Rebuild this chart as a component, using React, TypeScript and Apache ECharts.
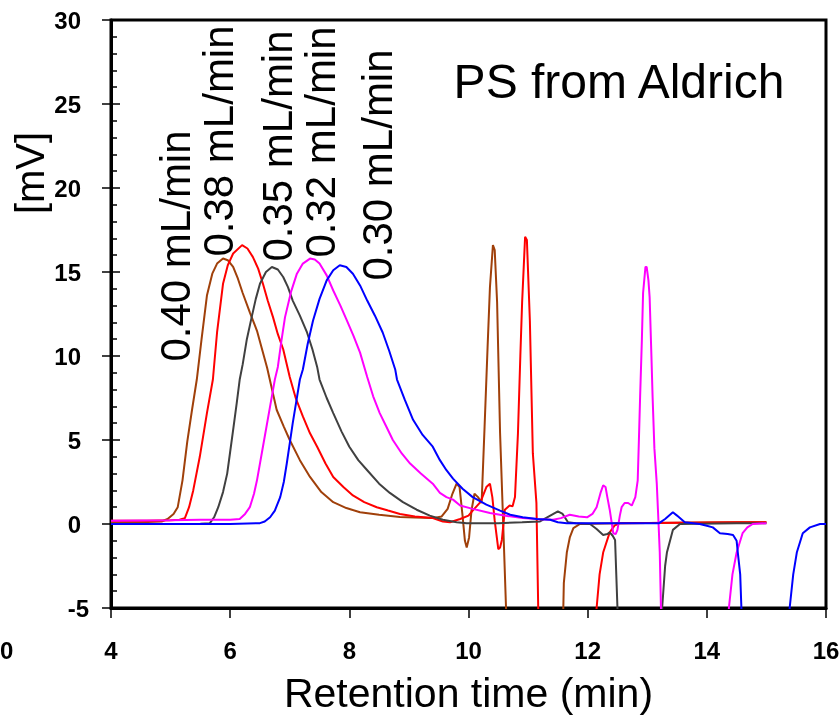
import React, { useEffect, useRef } from "react";
import * as echarts from "echarts";

// Retention time (min) / signal (mV) pairs
const flow040: number[][] = [
  [4.0,0.1],[4.5,0.1],[4.85,0.15],[4.95,0.3],[5.05,0.6],[5.12,1.0],[5.2,2.6],[5.28,4.9],[5.36,6.8],[5.44,8.6],
  [5.52,11.0],[5.61,13.6],[5.7,14.9],[5.78,15.5],[5.88,15.8],[5.96,15.7],[6.05,15.3],[6.13,14.6],[6.21,13.75],
  [6.33,12.6],[6.45,11.5],[6.62,9.3],[6.78,6.8],[6.9,5.8],[7.0,5.0],[7.17,3.8],[7.34,2.8],[7.53,1.9],[7.73,1.3],
  [7.95,0.95],[8.18,0.7],[8.5,0.55],[8.85,0.42],[9.1,0.38],[9.4,0.35],[9.55,0.45],[9.65,0.9],[9.73,1.8],[9.8,2.4],
  [9.85,2.2],[9.9,0.5],[9.94,-1.0],[9.97,-1.4],[10.01,-0.8],[10.05,0.8],[10.1,1.8],[10.16,1.6],[10.22,1.25],
  [10.27,5.8],[10.32,10.5],[10.36,14.1],[10.41,16.6],[10.44,16.3],[10.48,13.2],[10.53,5.4],[10.58,0.25],[10.63,-5],
  [10.66,-12],[11.55,-12],[11.6,-3.5],[11.65,-1.7],[11.7,-0.8],[11.76,-0.25],[11.87,0],[12.5,0.05],[13.5,0.08],
  [14.5,0.1],[15.0,0.1]
];
const flow038: number[][] = [
  [4.0,0.2],[4.6,0.2],[5.0,0.22],[5.15,0.25],[5.24,0.35],[5.31,1.0],[5.38,2.0],[5.49,4.0],[5.61,6.6],[5.71,8.6],
  [5.78,11.4],[5.88,14.3],[5.96,15.4],[6.05,16.1],[6.2,16.6],[6.29,16.4],[6.38,15.9],[6.47,15.2],[6.55,14.3],
  [6.63,13.3],[6.72,12.3],[6.8,11.3],[6.89,10.4],[7.0,8.75],[7.1,7.5],[7.22,6.4],[7.34,5.4],[7.46,4.6],[7.6,3.6],
  [7.73,2.8],[7.9,2.2],[8.06,1.7],[8.25,1.3],[8.46,1.0],[8.65,0.8],[8.85,0.6],[9.1,0.45],[9.4,0.35],[9.57,0.15],
  [9.69,0.1],[9.86,0.3],[10.0,0.5],[10.07,0.8],[10.2,1.3],[10.3,2.2],[10.36,2.4],[10.4,1.6],[10.44,0.2],[10.5,-1.5],
  [10.53,-1.4],[10.56,-0.95],[10.61,0.85],[10.69,1.1],[10.74,1.05],[10.78,1.6],[10.83,5.4],[10.87,10.0],[10.9,13.2],
  [10.95,17.1],[10.98,16.9],[11.03,12.1],[11.08,4.2],[11.14,1.25],[11.17,-5],[11.2,-12],[12.1,-12],[12.15,-5],
  [12.2,-3],[12.26,-1.7],[12.37,-0.5],[12.45,-0.1],[12.54,0.05],[13.5,0.08],[14.5,0.1],[15.0,0.1]
];
const flow035: number[][] = [
  [4.0,0.0],[5.0,0.0],[5.5,0.02],[5.66,0.05],[5.73,0.4],[5.8,1.0],[5.88,1.9],[5.95,3.0],[6.0,4.3],[6.05,5.6],
  [6.11,7.2],[6.16,8.6],[6.21,9.5],[6.28,11.0],[6.36,12.3],[6.43,13.4],[6.5,14.3],[6.6,15.0],[6.7,15.3],[6.8,15.15],
  [6.89,14.7],[6.97,14.1],[7.05,13.3],[7.17,12.4],[7.29,11.4],[7.38,10.4],[7.46,9.35],[7.5,8.6],[7.62,7.5],
  [7.73,6.6],[7.87,5.5],[8.0,4.6],[8.15,3.8],[8.3,3.2],[8.5,2.4],[8.68,1.85],[8.9,1.3],[9.13,0.85],[9.35,0.5],
  [9.57,0.25],[9.8,0.1],[9.97,0.05],[10.5,0.05],[10.9,0.1],[11.2,0.15],[11.35,0.45],[11.5,0.75],[11.58,0.6],
  [11.67,0.1],[11.8,0.05],[12.04,0.0],[12.15,-0.3],[12.26,-0.65],[12.33,-0.6],[12.37,-0.5],[12.42,-0.7],
  [12.46,-0.95],[12.5,-5],[12.52,-12],[13.23,-12],[13.25,-5],[13.3,-2.5],[13.33,-1.7],[13.43,-0.35],[13.55,0.0],
  [14.5,0.05],[15.0,0.05]
];
const flow032: number[][] = [
  [4.0,0.2],[5.0,0.22],[5.5,0.25],[6.0,0.25],[6.16,0.3],[6.25,0.6],[6.33,1.0],[6.4,1.8],[6.45,2.6],[6.55,4.6],
  [6.67,7.0],[6.75,8.6],[6.8,9.35],[6.86,10.9],[6.92,12.3],[7.02,13.8],[7.12,14.9],[7.22,15.5],[7.34,15.8],
  [7.42,15.75],[7.5,15.5],[7.62,14.8],[7.73,13.9],[7.85,13.0],[7.96,12.1],[8.07,11.2],[8.18,10.2],[8.3,8.75],
  [8.4,7.6],[8.51,6.6],[8.62,5.8],[8.73,5.0],[8.88,4.2],[9.02,3.6],[9.2,3.0],[9.4,2.4],[9.52,1.85],[9.63,1.6],
  [9.74,1.45],[9.86,1.1],[10.07,0.9],[10.36,0.65],[10.6,0.5],[10.91,0.35],[11.2,0.28],[11.42,0.25],[11.55,0.35],
  [11.7,0.55],[11.85,0.45],[11.99,0.4],[12.08,0.6],[12.15,1.0],[12.22,1.9],[12.26,2.3],[12.3,2.2],[12.33,1.6],
  [12.37,0.85],[12.43,-0.55],[12.47,-0.6],[12.5,-0.35],[12.54,0.5],[12.57,1.0],[12.62,1.25],[12.68,1.25],
  [12.74,1.1],[12.8,1.6],[12.84,2.6],[12.86,5.0],[12.88,7.55],[12.91,11.0],[12.93,13.75],[12.97,15.3],[12.99,15.3],
  [13.02,14.5],[13.04,13.5],[13.07,10.0],[13.09,7.55],[13.12,4.5],[13.16,2.4],[13.19,0.0],[13.21,-1.7],[13.23,-5],
  [13.25,-12],[14.35,-12],[14.37,-5],[14.43,-3],[14.5,-1.7],[14.6,-0.55],[14.68,-0.2],[14.77,0.0],[15.0,0.05]
];
const flow030: number[][] = [
  [4.0,0.0],[5.0,0.0],[6.0,0.0],[6.5,0.05],[6.58,0.15],[6.67,0.4],[6.75,0.8],[6.84,1.6],[6.9,2.5],[6.95,3.6],
  [7.0,4.8],[7.05,6.0],[7.11,7.3],[7.17,8.6],[7.22,9.2],[7.3,10.7],[7.39,12.1],[7.5,13.4],[7.62,14.5],[7.73,15.1],
  [7.84,15.4],[7.95,15.3],[8.06,14.9],[8.18,14.2],[8.3,13.3],[8.43,12.4],[8.56,11.4],[8.67,10.3],[8.77,9.2],
  [8.8,8.6],[8.93,7.4],[9.07,6.2],[9.23,5.3],[9.4,4.6],[9.52,3.8],[9.63,3.2],[9.74,2.7],[9.9,2.1],[10.07,1.6],
  [10.3,1.15],[10.53,0.8],[10.7,0.55],[10.91,0.4],[11.15,0.3],[11.37,0.25],[11.5,0.1],[11.65,0.05],[12.5,0.05],
  [13.2,0.05],[13.3,0.3],[13.43,0.7],[13.5,0.5],[13.63,0.1],[13.88,0.0],[14.0,-0.1],[14.1,-0.2],[14.22,-0.55],
  [14.35,-0.6],[14.44,-0.65],[14.5,-1.0],[14.52,-1.7],[14.56,-3],[14.58,-5],[14.6,-12],[15.37,-12],[15.39,-5],
  [15.45,-3],[15.51,-1.7],[15.61,-0.55],[15.73,-0.2],[15.9,0.0],[16.0,0.0]
];

const flowLabels = ["0.40 mL/min", "0.38 mL/min", "0.35 mL/min", "0.32 mL/min", "0.30 mL/min"];
const flowData = [flow040, flow038, flow035, flow032, flow030];
const flowColors = ["#A0400A", "#FF0000", "#404040", "#FF00FF", "#0000FF"];
const labelPos = [[175, 246], [218, 141], [277, 146], [320, 142], [377, 165]];

const FONT = "'Liberation Sans', Arial, sans-serif";

export default function App() {
  const ref = useRef<HTMLDivElement>(null);
  useEffect(() => {
    const chart = echarts.init(ref.current!, null, { renderer: "svg", width: 840, height: 716 });
    chart.setOption({
      animation: false,
      grid: {
        left: 111, width: 715, top: 20, height: 588, containLabel: false, outerBoundsMode: "none",
        show: true, borderColor: "#000", borderWidth: 3, backgroundColor: "transparent",
      },
      xAxis: {
        type: "value", min: 4, max: 16, interval: 2,
        axisLine: { show: true, onZero: false, lineStyle: { color: "#000", width: 3 } },
        axisTick: { show: true, length: 10, lineStyle: { color: "#000", width: 1.5 } },
        axisLabel: { fontSize: 24, fontWeight: "bold", color: "#000", margin: 30, fontFamily: FONT },
        splitLine: { show: false },
        name: "Retention time (min)", nameLocation: "middle", nameGap: 65,
        nameTextStyle: { fontSize: 41, lineHeight: 40, color: "#000", fontFamily: FONT },
      },
      yAxis: [
        {
          type: "value", min: -5, max: 30, interval: 5, position: "left",
          axisLine: { show: true, lineStyle: { color: "#000", width: 3 } },
          axisTick: { show: true, length: 9, lineStyle: { color: "#000", width: 1.5 } },
          axisLabel: {
            color: "#000", margin: 22,
            formatter: (v: number) => (v === -5 ? "{n|-5}" : "{p|" + v + "}"),
            rich: {
              n: { fontSize: 24, fontWeight: "bold", color: "#000", fontFamily: FONT },
              p: { fontSize: 24, fontWeight: "bold", color: "#000", fontFamily: FONT, padding: [0, 8, 0, 0] },
            },
          },
          splitLine: { show: false },
        },
        {
          type: "value", min: -5, max: 30, interval: 5, position: "left",
          axisLine: { show: false },
          axisTick: { show: true, inside: true, length: 9, lineStyle: { color: "#000", width: 1.5 } },
          minorTick: { show: true, splitNumber: 5, length: 6, lineStyle: { color: "#000", width: 1.5 } },
          axisLabel: { show: false },
          splitLine: { show: false },
        },
      ],
      series: flowData.map((d, i) => ({
        type: "line",
        name: flowLabels[i],
        data: d,
        yAxisIndex: 0,
        showSymbol: false,
        symbol: "none",
        clip: true,
        lineStyle: { color: flowColors[i], width: 2 },
        z: 2 + i,
      })),
      graphic: [
        { type: "text", x: 30, y: 173, rotation: Math.PI / 2, style: { text: "[mV]", fontSize: 40, fontFamily: FONT, fill: "#000", align: "center", verticalAlign: "middle" } },
        { type: "text", x: 619, y: 81, style: { text: "PS from Aldrich", fontSize: 48, fontFamily: FONT, fill: "#000", align: "center", verticalAlign: "middle" } },
        { type: "text", x: 0, y: 650, style: { text: "0", fontSize: 24, fontWeight: "bold", fontFamily: FONT, fill: "#000", align: "left", verticalAlign: "middle" } },
        ...flowLabels.map((t, i) => ({
          type: "text", x: labelPos[i][0], y: labelPos[i][1], rotation: Math.PI / 2, z: 100,
          style: { text: t, fontSize: 42, fontFamily: FONT, fill: "#000", align: "center", verticalAlign: "middle" },
        })),
      ],
    });
    return () => chart.dispose();
  }, []);
  return <div ref={ref} style={{ position: "fixed", left: 0, top: 0, width: 840, height: 716 }} />;
}
